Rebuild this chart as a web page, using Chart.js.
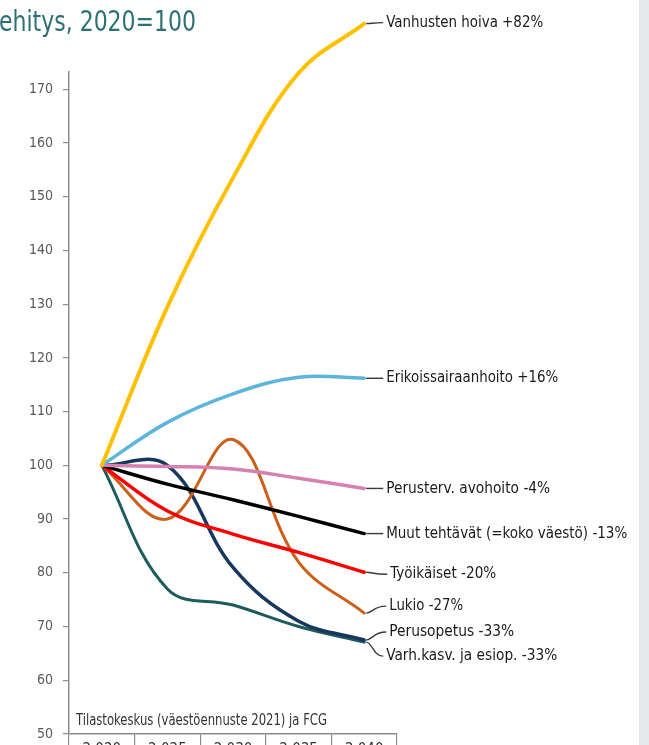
<!DOCTYPE html>
<html><head><meta charset="utf-8">
<script src="https://cdn.jsdelivr.net/npm/chart.js@4/dist/chart.umd.min.js"></script>
<style>
html,body{margin:0;padding:0;background:#fff;overflow:hidden;}
#wrap{position:relative;width:649px;height:745px;overflow:hidden;background:#fff;}
#strip{position:absolute;left:639px;top:0;width:10px;height:745px;background:#e6e9eb;}
canvas{position:absolute;left:0;top:0;}
</style></head><body>
<div id="wrap"><canvas id="c" width="649" height="780" style="width:649px;height:780px"></canvas><div id="strip"></div></div>
<script>
// ---- data ----
const xLabels = ['2 020', '2 025', '2 030', '2 035', '2 040'];
const yTicks = [50, 60, 70, 80, 90, 100, 110, 120, 130, 140, 150, 160, 170];

const seriesNames = [
  'Vanhusten hoiva +82%',
  'Erikoissairaanhoito +16%',
  'Perusterv. avohoito -4%',
  'Muut tehtävät (=koko väestö) -13%',
  'Työikäiset -20%',
  'Lukio -27%',
  'Perusopetus -33%',
  'Varh.kasv. ja esiop. -33%'
];
const vanhustenHoiva   = [100, 129.5, 153.5, 173.0, 182.2];
const erikoissairaan   = [100, 108.0, 113.3, 116.4, 116.2];
const perustervAvo     = [100, 99.8, 99.3, 97.6, 95.7];
const muutTehtavat     = [100, 96.5, 93.6, 90.5, 87.3];
const tyoikaiset       = [100, 91.5, 87.2, 83.8, 80.1];
const lukio            = [100, 90.0, 104.8, 82.0, 72.5];
const perusopetus      = [100, 100.0, 81.0, 71.0, 67.5];
const varhKasv         = [100, 77.0, 74.0, 70.0, 67.1];

const seriesValues = [vanhustenHoiva, erikoissairaan, perustervAvo, muutTehtavat,
                      tyoikaiset, lukio, perusopetus, varhKasv];
const seriesColors = ['#FFC000', '#5BB5DC', '#D581B1', '#000000',
                      '#FF0000', '#CC5F1A', '#17375E', '#1E5B5C'];
const seriesWidths = [4, 3.5, 3.5, 3.5, 3.5, 3, 3.5, 3];

// label layout (pixel offsets from the series' last point, target text widths)
const labelDy = [-1, 0, 0, 0, 2, -7, -8, 14];
const labelDx = [0, 0, 0, 0, 4, 3, 3, 0];
const labelW  = [157, 172, 164, 241, 106, 74, 125, 171];

const FONT = "'Liberation Sans Narrow', 'DejaVu Sans Condensed', 'Roboto Condensed', sans-serif";

function fillTextW(ctx, text, x, y, w) {
  const m = ctx.measureText(text).width;
  const sx = w / m;
  ctx.save();
  ctx.translate(x, y);
  ctx.scale(sx, 1);
  ctx.fillText(text, 0, 0);
  ctx.restore();
}

const decorPlugin = {
  id: 'decor',
  afterDatasetsDraw(chart) {
    const ctx = chart.ctx;
    ctx.save();
    chart.data.datasets.forEach((ds, i) => {
      const meta = chart.getDatasetMeta(i);
      const p = meta.data[meta.data.length - 1];
      const x = p.x, y = p.y;
      const ty = y + labelDy[i];
      const x2 = x + 19 + labelDx[i];
      ctx.strokeStyle = '#3a3a3a';
      ctx.lineWidth = 1.4;
      ctx.beginPath();
      ctx.moveTo(x + 2, y);
      ctx.bezierCurveTo(x + 8, y, x + 9, ty, x2, ty);
      ctx.stroke();
      ctx.fillStyle = '#1a1a1a';
      ctx.font = '16px ' + FONT;
      ctx.textBaseline = 'middle';
      ctx.textAlign = 'left';
      fillTextW(ctx, seriesNames[i], x2 + 3, ty, labelW[i]);
    });
    // title (cropped at the left edge)
    ctx.fillStyle = '#2C6F75';
    ctx.font = '28px ' + FONT;
    ctx.textBaseline = 'alphabetic';
    ctx.textAlign = 'left';
    fillTextW(ctx, 'ehitys, 2020=100', -1, 31, 197);
    // source
    ctx.fillStyle = '#333333';
    ctx.font = '15px ' + FONT;
    ctx.textBaseline = 'middle';
    fillTextW(ctx, 'Tilastokeskus (väestöennuste 2021) ja FCG', 76, 721, 251);
    ctx.restore();
  }
};

new Chart(document.getElementById('c'), {
  type: 'line',
  data: {
    labels: xLabels,
    datasets: seriesValues.map((vals, i) => ({
      label: seriesNames[i],
      data: vals,
      borderColor: seriesColors[i],
      backgroundColor: seriesColors[i],
      borderWidth: seriesWidths[i],
      pointRadius: 0,
      tension: 0.38,
      fill: false,
      clip: false,
      borderCapStyle: 'round'
    }))
  },
  options: {
    responsive: false,
    animation: false,
    devicePixelRatio: 1,
    layout: { padding: { left: 0, right: 252, top: 72, bottom: 0 } },
    plugins: { legend: { display: false }, tooltip: { enabled: false }, title: { display: false } },
    scales: {
      x: {
        type: 'category',
        offset: true,
        afterFit(s) { s.height = 46; },
        grid: { display: true, offset: true, drawOnChartArea: false, drawTicks: true, tickLength: 30, color: '#8c8c8c', lineWidth: 1.2 },
        border: { display: true, color: '#8c8c8c', width: 1.5 },
        ticks: { color: '#333333', font: { family: FONT, size: 15 }, padding: -23, maxRotation: 0, autoSkip: false }
      },
      y: {
        min: 50,
        max: 173.2,
        afterFit(s) { s.width = 69; },
        afterBuildTicks(s) { s.ticks = yTicks.map(v => ({ value: v })); },
        grid: { display: true, drawOnChartArea: false, drawTicks: true, tickLength: 6, color: '#8c8c8c', lineWidth: 1.2 },
        border: { display: true, color: '#8c8c8c', width: 1.5 },
        ticks: { color: '#595959', font: { family: FONT, size: 14 }, padding: 10 }
      }
    }
  },
  plugins: [decorPlugin]
});
</script>
</body></html>
